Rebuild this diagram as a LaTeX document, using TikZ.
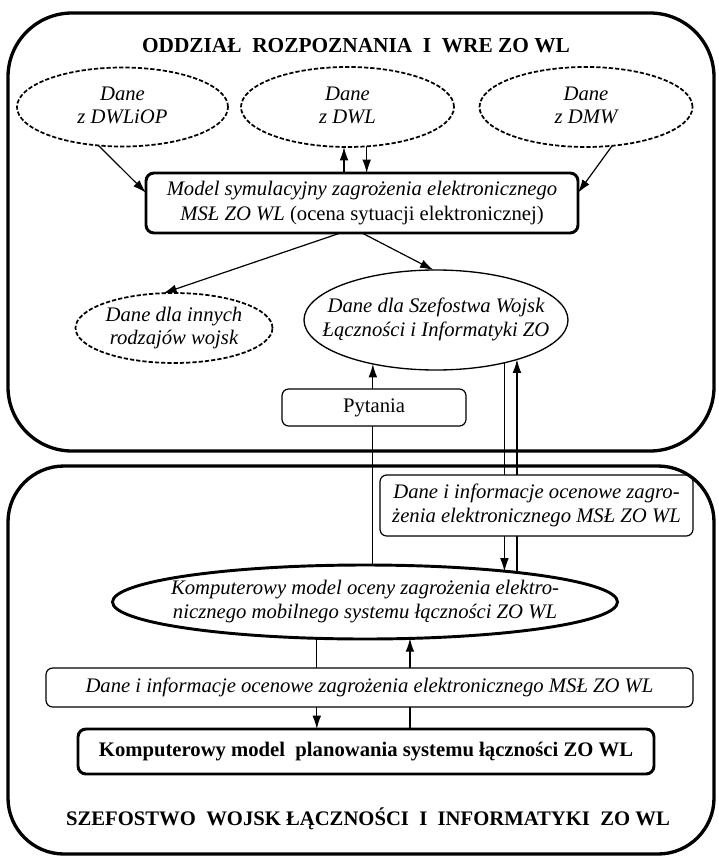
\documentclass[tikz,border=0pt]{standalone}
\usepackage{fontspec}
\setmainfont{Liberation Serif}
\usetikzlibrary{shapes.geometric,arrows.meta,calc,backgrounds}

% centred multi-line text that does not widen its node
\newcommand{\ctext}[1]{\makebox[0pt]{\begin{tabular}{@{}c@{}}#1\end{tabular}}}

\tikzset{
  every node/.style={inner sep=0pt, outer sep=0pt,
    font=\fontsize{15.5}{18}\selectfont},
  dashell/.style={ellipse, draw, fill=white, line width=1.3pt,
    dash pattern=on 3.2pt off 1.5pt, font=\fontsize{15.5}{17.5}\selectfont\itshape},
  solell/.style={ellipse, draw, fill=white, line width=1pt,
    font=\fontsize{15.5}{18}\selectfont\itshape},
  heavyell/.style={ellipse, draw, fill=white, line width=2.2pt,
    font=\fontsize{15.5}{18}\selectfont\itshape},
  heavybox/.style={rectangle, draw, fill=white, rounded corners=6pt, line width=2.2pt},
  tagbox/.style={rectangle, draw, fill=white, rounded corners=5pt, line width=0.9pt},
  heading/.style={font=\fontsize{16}{19}\selectfont\bfseries},
  link/.style={line width=0.9pt},
  arr/.style={line width=0.9pt, -{Latex[length=10pt,width=6.5pt]}},
  frame/.style={line width=2.5pt}
}

\begin{document}
\begin{tikzpicture}[x=0.75pt,y=-0.75pt]
\useasboundingbox (0,0) rectangle (718,856);

% ---------- upper department ----------
\node[heading, anchor=base] (t1) at (356,53)
  {ODDZIAŁ\ \ ROZPOZNANIA\ \ I\ \ WRE ZO WL};

\node[dashell, minimum width=158.25pt, minimum height=59.25pt] (e1) at (122.5,107)
  {\ctext{Dane\\ z DWLiOP}};
\node[dashell, minimum width=159.75pt, minimum height=60pt] (e2) at (347.5,107)
  {\ctext{Dane\\ z DWL}};
\node[dashell, minimum width=159.75pt, minimum height=60pt] (e3) at (586,107)
  {\ctext{Dane\\ z DMW}};

\node[heavybox, minimum width=324pt, minimum height=45pt,
      font=\fontsize{15.5}{18.5}\selectfont\itshape] (model) at (362,203)
  {\ctext{Model symulacyjny zagrożenia elektronicznego\\
   MSŁ ZO WL {\upshape(ocena sytuacji elektronicznej)}}};

\node[dashell, minimum width=147.75pt, minimum height=52.5pt] (inn) at (174,328)
  {\ctext{Dane dla innych\\ rodzajów wojsk}};
\node[solell, minimum width=198pt, minimum height=75pt] (rel) at (436,320)
  {\ctext{Dane dla Szefostwa Wojsk\\ Łączności i Informatyki ZO}};

\node[tagbox, minimum width=138pt, minimum height=27.75pt] (pyt) at (374,407.5)
  {Pytania};

% ---------- lower department ----------
\node[tagbox, minimum width=234.75pt, minimum height=45.75pt,
      font=\fontsize{15.5}{18.5}\selectfont\itshape] (lab1) at (536.5,505.5)
  {\ctext{Dane i informacje ocenowe zagro-\\ żenia elektronicznego MSŁ ZO WL}};

\node[heavyell, minimum width=378.75pt, minimum height=55.5pt] (kel) at (365,602)
  {\ctext{Komputerowy model oceny zagrożenia elektro-\\
   nicznego mobilnego systemu łączności ZO WL}};

\node[tagbox, minimum width=485.25pt, minimum height=29.25pt,
      font=\fontsize{15.5}{18}\selectfont\itshape] (lab2) at (369.5,687.5)
  {\ctext{Dane i informacje ocenowe zagrożenia elektronicznego MSŁ ZO WL}};

\node[heavybox, minimum width=432pt, minimum height=33.75pt,
      font=\fontsize{15.5}{18}\selectfont\bfseries] (plan) at (366,751.5)
  {\ctext{Komputerowy model\ \ planowania systemu łączności ZO WL}};

\node[heading, anchor=base, font=\fontsize{15.5}{18}\selectfont\bfseries] (t2) at (368,825)
  {SZEFOSTWO\ \ WOJSK ŁĄCZNOŚCI\ \ I\ \ INFORMATYKI\ \ ZO WL};

% ---------- connectors (behind the boxes) ----------
\begin{pgfonlayer}{background}
  \draw[arr] (e1.238.9) -- ($(model.north west)!0.33!(model.south west)$);
  \draw[arr] (e3.304.9) -- ($(model.north east)!0.33!(model.south east)$);
  \draw[arr] (e2.265 |- model.north) -- (e2.265);
  \draw[arr] (e2.296.4) -- (e2.296.4 |- model.north);
  \draw[arr] ($(model.south west)!0.45!(model.south east)$) -- (inn.107);
  \draw[arr] (model.south) -- (rel.93);
  % questions going up, through the label
  \draw[arr] (kel.78) -- (kel.78 |- rel.215);
  % assessment data exchanged with the upper department
  \draw[arr] (rel.328.8) -- (rel.328.8 |- kel.12.3);
  \draw[arr] (rel.334 |- kel.11) -- (rel.334);
  % exchange with the planning model
  \draw[arr] (kel.217.7) -- (kel.217.7 |- plan.north);
  \draw[arr] (kel.321.6 |- plan.north) -- (kel.321.6);
\end{pgfonlayer}

% ---------- department frames ----------
\draw[frame, rounded corners=48pt] (8,13) rectangle (714,451);
\draw[frame, rounded corners=42pt] (8,466) rectangle (714,854);
\end{tikzpicture}
\end{document}
